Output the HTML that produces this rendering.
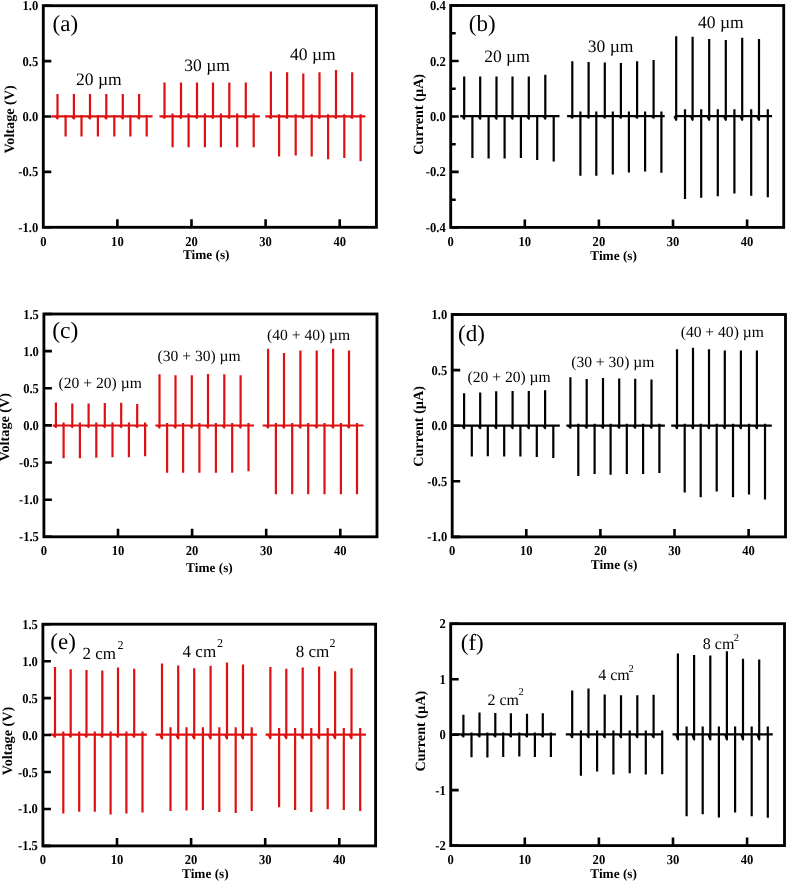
<!DOCTYPE html>
<html><head><meta charset="utf-8"><style>
html,body{margin:0;padding:0;background:#fff;}
body{width:787px;height:881px;overflow:hidden;}
svg{display:block;filter:blur(0.35px);}
text{font-family:"Liberation Serif",serif;text-rendering:geometricPrecision;}
.tl{font-weight:bold;font-size:12.6px;}
.al{font-weight:bold;font-size:13.3px;}
.yl{font-weight:bold;font-size:14.2px;}
.an{font-weight:normal;}
</style></head><body>
<svg width="787" height="881" viewBox="0 0 787 881">
<rect width="787" height="881" fill="#fff"/>
<path d="M51.7 116.4H152.5M55.7 116.4L57.5 118.4V94.0M72.1 116.4L73.9 118.4V94.0M88.2 116.4L90.0 118.4V94.0M104.5 116.4L106.3 118.4V94.0M121.0 116.4L122.8 118.4V94.0M137.3 116.4L139.1 118.4V94.0M65.6 114.9V136.4M81.5 114.9V136.4M97.9 114.9V136.4M114.3 114.9V136.4M130.4 114.9V136.4M146.7 114.9V136.4M159.5 116.4H259.8M162.7 116.4L164.5 117.9V82.6M179.2 116.4L181.0 117.9V82.6M195.2 116.4L197.0 117.9V82.6M211.2 116.4L213.0 117.9V82.6M227.5 116.4L229.3 117.9V82.6M244.0 116.4L245.8 117.9V82.6M172.6 113.4V147.2M188.6 113.4V147.2M204.9 113.4V147.2M220.9 113.4V147.2M237.2 113.4V147.2M253.7 113.4V147.2M265.3 116.4H365.4M269.1 116.4L270.9 117.9V71.4M285.3 116.4L287.1 117.9V72.2M301.5 116.4L303.3 117.9V73.5M317.7 116.4L319.5 117.9V72.2M334.2 116.4L336.0 117.9V69.9M350.4 116.4L352.2 117.9V72.2M279.1 114.2V156.4M295.7 114.2V155.6M311.7 114.2V156.4M328.1 114.2V159.3M344.3 114.2V158.0M360.6 114.2V161.2" stroke="#dd1111" stroke-width="2.2" fill="none" stroke-linejoin="round"/>
<rect x="43.3" y="5.7" width="333.1" height="221.6" fill="none" stroke="#000" stroke-width="2.85"/>
<path d="M43.3 5.7h8M43.3 61.1h8M43.3 116.5h8M43.3 171.9h8M43.3 227.3h8M117.4 227.3v-8M191.5 227.3v-8M265.6 227.3v-8M339.7 227.3v-8" stroke="#000" stroke-width="2.6" fill="none"/>
<text transform="translate(38.3,10.22) scale(1,1.08)" class="tl" text-anchor="end">1.0</text>
<text transform="translate(38.3,65.62) scale(1,1.08)" class="tl" text-anchor="end">0.5</text>
<text transform="translate(38.3,121.02) scale(1,1.08)" class="tl" text-anchor="end">0.0</text>
<text transform="translate(38.3,176.42) scale(1,1.08)" class="tl" text-anchor="end">-0.5</text>
<text transform="translate(38.3,231.82) scale(1,1.08)" class="tl" text-anchor="end">-1.0</text>
<text transform="translate(43.3,245.62) scale(1,1.08)" class="tl" text-anchor="middle">0</text>
<text transform="translate(117.4,245.62) scale(1,1.08)" class="tl" text-anchor="middle">10</text>
<text transform="translate(191.5,245.62) scale(1,1.08)" class="tl" text-anchor="middle">20</text>
<text transform="translate(265.6,245.62) scale(1,1.08)" class="tl" text-anchor="middle">30</text>
<text transform="translate(339.7,245.62) scale(1,1.08)" class="tl" text-anchor="middle">40</text>
<text x="182.9" y="259.2" class="al">Time (s)</text>
<text transform="translate(13.7,119.4) rotate(-90)" class="yl" text-anchor="middle">Voltage (V)</text>
<text x="52.6" y="31.2" class="an" font-size="23">(a)</text>
<text x="76.1" y="85.3" class="an" font-size="17.5">20 µm</text>
<text x="184.3" y="71.3" class="an" font-size="17.5">30 µm</text>
<text x="290.0" y="60.0" class="an" font-size="17.5">40 µm</text>
<path d="M460.2 116.2H559.5M462.4 116.2L464.2 118.7V76.5M478.4 116.2L480.2 118.7V76.5M494.7 116.2L496.5 118.7V76.5M510.7 116.2L512.5 118.7V76.5M527.0 116.2L528.8 118.7V76.5M543.5 116.2L545.3 118.7V74.8M472.4 115.2V158.0M488.6 115.2V158.4M504.6 115.2V158.4M520.9 115.2V158.0M537.2 115.2V159.9M553.7 115.2V161.4M567.1 116.2H664.7M570.5 116.2L572.3 117.7V61.3M586.8 116.2L588.6 117.7V62.1M603.0 116.2L604.8 117.7V62.6M619.1 116.2L620.9 117.7V63.0M635.3 116.2L637.1 117.7V61.3M651.8 116.2L653.6 117.7V60.1M580.4 111.6V175.7M596.3 111.6V175.7M612.8 111.6V174.5M628.9 111.6V172.4M645.1 111.6V171.6M661.4 111.6V172.8M674.7 116.2H772.1M674.4 116.2L676.2 119.8V36.2M690.8 116.2L692.6 119.8V36.8M707.4 116.2L709.2 119.8V39.0M724.0 116.2L725.8 119.8V40.0M740.4 116.2L742.2 119.8V37.7M757.2 116.2L759.0 119.8V39.0M685.0 109.3V198.9M701.2 109.3V197.8M717.8 109.3V196.3M734.4 109.3V193.5M751.2 109.3V195.7M767.8 109.3V197.2" stroke="#000" stroke-width="2.2" fill="none" stroke-linejoin="round"/>
<rect x="450.7" y="5.5" width="333.0" height="221.9" fill="none" stroke="#000" stroke-width="2.85"/>
<path d="M450.7 5.5h8M450.7 61.0h8M450.7 116.5h8M450.7 171.9h8M450.7 227.4h8M450.7 33.2h5M450.7 88.7h5M450.7 144.2h5M450.7 199.7h5M524.8 227.4v-8M598.9 227.4v-8M673.0 227.4v-8M747.1 227.4v-8" stroke="#000" stroke-width="2.6" fill="none"/>
<text transform="translate(445.7,10.02) scale(1,1.08)" class="tl" text-anchor="end">0.4</text>
<text transform="translate(445.7,65.50) scale(1,1.08)" class="tl" text-anchor="end">0.2</text>
<text transform="translate(445.7,120.97) scale(1,1.08)" class="tl" text-anchor="end">0.0</text>
<text transform="translate(445.7,176.45) scale(1,1.08)" class="tl" text-anchor="end">-0.2</text>
<text transform="translate(445.7,231.92) scale(1,1.08)" class="tl" text-anchor="end">-0.4</text>
<text transform="translate(450.7,245.72) scale(1,1.08)" class="tl" text-anchor="middle">0</text>
<text transform="translate(524.8,245.72) scale(1,1.08)" class="tl" text-anchor="middle">10</text>
<text transform="translate(598.9,245.72) scale(1,1.08)" class="tl" text-anchor="middle">20</text>
<text transform="translate(673.0,245.72) scale(1,1.08)" class="tl" text-anchor="middle">30</text>
<text transform="translate(747.1,245.72) scale(1,1.08)" class="tl" text-anchor="middle">40</text>
<text x="590.3" y="259.5" class="al">Time (s)</text>
<text transform="translate(422.5,114.3) rotate(-90)" class="yl" text-anchor="middle">Current (µA)</text>
<text x="468.8" y="30.6" class="an" font-size="23">(b)</text>
<text x="484.2" y="61.5" class="an" font-size="17.5">20 µm</text>
<text x="587.8" y="51.9" class="an" font-size="17.5">30 µm</text>
<text x="698.1" y="28.3" class="an" font-size="17.5">40 µm</text>
<path d="M52.7 425.5H147.7M54.1 425.5L55.9 427.0V402.4M70.5 425.5L72.3 427.0V403.5M86.8 425.5L88.6 427.0V403.5M103.0 425.5L104.8 427.0V403.1M119.4 425.5L121.2 427.0V402.8M135.4 425.5L137.2 427.0V404.0M63.6 422.5V458.3M79.9 422.5V458.3M96.3 422.5V457.7M112.5 422.5V457.3M128.9 422.5V457.3M145.1 422.5V456.2M155.4 425.5H254.0M157.7 425.5L159.5 427.5V374.2M173.7 425.5L175.5 427.5V375.2M190.0 425.5L191.8 427.5V375.2M206.2 425.5L208.0 427.5V374.0M222.5 425.5L224.3 427.5V374.2M238.8 425.5L240.6 427.5V375.2M167.1 423.0V472.8M183.1 423.0V472.8M199.4 423.0V472.8M215.9 423.0V472.8M232.2 423.0V472.8M248.5 423.0V471.3M262.6 425.5H363.6M266.3 425.5L268.1 427.5V348.7M282.2 425.5L284.0 427.5V353.1M298.6 425.5L300.4 427.5V350.5M314.9 425.5L316.7 427.5V350.5M331.3 425.5L333.1 427.5V348.7M347.2 425.5L349.0 427.5V350.5M275.9 423.0V494.3M292.2 423.0V494.3M308.2 423.0V494.3M324.5 423.0V494.3M340.9 423.0V494.3M357.0 423.0V494.3" stroke="#dd1111" stroke-width="2.2" fill="none" stroke-linejoin="round"/>
<rect x="43.9" y="314.0" width="333.1" height="222.8" fill="none" stroke="#000" stroke-width="2.85"/>
<path d="M43.9 314.0h8M43.9 351.1h8M43.9 388.3h8M43.9 425.4h8M43.9 462.5h8M43.9 499.7h8M43.9 536.8h8M118.0 536.8v-8M192.1 536.8v-8M266.2 536.8v-8M340.3 536.8v-8" stroke="#000" stroke-width="2.6" fill="none"/>
<text transform="translate(38.9,318.52) scale(1,1.08)" class="tl" text-anchor="end">1.5</text>
<text transform="translate(38.9,355.66) scale(1,1.08)" class="tl" text-anchor="end">1.0</text>
<text transform="translate(38.9,392.79) scale(1,1.08)" class="tl" text-anchor="end">0.5</text>
<text transform="translate(38.9,429.92) scale(1,1.08)" class="tl" text-anchor="end">0.0</text>
<text transform="translate(38.9,467.06) scale(1,1.08)" class="tl" text-anchor="end">-0.5</text>
<text transform="translate(38.9,504.19) scale(1,1.08)" class="tl" text-anchor="end">-1.0</text>
<text transform="translate(38.9,541.32) scale(1,1.08)" class="tl" text-anchor="end">-1.5</text>
<text transform="translate(43.9,555.12) scale(1,1.08)" class="tl" text-anchor="middle">0</text>
<text transform="translate(118.0,555.12) scale(1,1.08)" class="tl" text-anchor="middle">10</text>
<text transform="translate(192.1,555.12) scale(1,1.08)" class="tl" text-anchor="middle">20</text>
<text transform="translate(266.2,555.12) scale(1,1.08)" class="tl" text-anchor="middle">30</text>
<text transform="translate(340.3,555.12) scale(1,1.08)" class="tl" text-anchor="middle">40</text>
<text x="186.1" y="572.3" class="al">Time (s)</text>
<text transform="translate(9.4,427.2) rotate(-90)" class="yl" text-anchor="middle">Voltage (V)</text>
<text x="52.2" y="337.6" class="an" font-size="23.5">(c)</text>
<text x="58.6" y="388.0" class="an" font-size="15.6">(20 + 20) µm</text>
<text x="157.5" y="360.7" class="an" font-size="15.6">(30 + 30) µm</text>
<text x="267.0" y="340.3" class="an" font-size="15.6">(40 + 40) µm</text>
<path d="M452.8 425.7H559.8M462.3 425.7L464.1 428.2V393.3M478.4 425.7L480.2 428.2V392.6M494.4 425.7L496.2 428.2V391.2M510.8 425.7L512.6 428.2V390.9M527.0 425.7L528.8 428.2V390.9M543.3 425.7L545.1 428.2V390.2M471.8 424.7V456.6M487.8 424.7V456.2M504.2 424.7V456.6M520.4 424.7V456.6M536.8 424.7V456.9M553.3 424.7V458.0M566.4 425.7H664.9M568.6 425.7L570.4 427.7V377.2M584.9 425.7L586.7 427.7V379.1M601.2 425.7L603.0 427.7V378.0M617.4 425.7L619.2 427.7V378.6M633.4 425.7L635.2 427.7V378.8M649.7 425.7L651.5 427.7V379.5M578.3 423.7V475.9M594.6 423.7V474.1M610.6 423.7V474.7M626.8 423.7V474.1M643.1 423.7V474.1M659.4 423.7V473.1M671.2 425.7H771.8M675.2 425.7L677.0 428.2V349.3M691.2 425.7L693.0 428.2V347.7M707.2 425.7L709.0 428.2V349.3M723.0 425.7L724.8 428.2V350.6M739.1 425.7L740.9 428.2V350.6M755.1 425.7L756.9 428.2V350.6M684.7 423.7V492.5M700.7 423.7V497.3M716.7 423.7V491.5M733.0 423.7V497.3M749.0 423.7V494.4M765.0 423.7V499.5" stroke="#000" stroke-width="2.2" fill="none" stroke-linejoin="round"/>
<rect x="452.2" y="314.5" width="333.3" height="222.4" fill="none" stroke="#000" stroke-width="2.85"/>
<path d="M452.2 314.5h8M452.2 370.1h8M452.2 425.7h8M452.2 481.3h8M452.2 536.9h8M526.3 536.9v-8M600.4 536.9v-8M674.5 536.9v-8M748.6 536.9v-8" stroke="#000" stroke-width="2.6" fill="none"/>
<text transform="translate(447.2,319.02) scale(1,1.08)" class="tl" text-anchor="end">1.0</text>
<text transform="translate(447.2,374.62) scale(1,1.08)" class="tl" text-anchor="end">0.5</text>
<text transform="translate(447.2,430.22) scale(1,1.08)" class="tl" text-anchor="end">0.0</text>
<text transform="translate(447.2,485.82) scale(1,1.08)" class="tl" text-anchor="end">-0.5</text>
<text transform="translate(447.2,541.42) scale(1,1.08)" class="tl" text-anchor="end">-1.0</text>
<text transform="translate(452.2,555.22) scale(1,1.08)" class="tl" text-anchor="middle">0</text>
<text transform="translate(526.3,555.22) scale(1,1.08)" class="tl" text-anchor="middle">10</text>
<text transform="translate(600.4,555.22) scale(1,1.08)" class="tl" text-anchor="middle">20</text>
<text transform="translate(674.5,555.22) scale(1,1.08)" class="tl" text-anchor="middle">30</text>
<text transform="translate(748.6,555.22) scale(1,1.08)" class="tl" text-anchor="middle">40</text>
<text x="590.8" y="569.3" class="al">Time (s)</text>
<text transform="translate(422.8,426.4) rotate(-90)" class="yl" text-anchor="middle">Current (µA)</text>
<text x="458.0" y="340.5" class="an" font-size="23">(d)</text>
<text x="467.5" y="381.7" class="an" font-size="15.6">(20 + 20) µm</text>
<text x="571.2" y="367.0" class="an" font-size="15.6">(30 + 30) µm</text>
<text x="680.7" y="337.4" class="an" font-size="15.6">(40 + 40) µm</text>
<path d="M49.2 734.7H146.9M53.2 734.7L55.0 736.7V667.0M68.9 734.7L70.7 736.7V669.3M84.7 734.7L86.5 736.7V669.9M100.5 734.7L102.3 736.7V670.6M116.2 734.7L118.0 736.7V667.4M132.4 734.7L134.2 736.7V668.7M63.3 731.4V813.6M79.2 731.4V811.7M94.8 731.4V811.7M110.6 731.4V814.4M126.4 731.4V813.6M142.5 731.4V812.5M155.6 734.7H256.9M160.2 734.7L162.0 738.4V663.5M176.4 734.7L178.2 738.4V665.4M192.4 734.7L194.2 738.4V668.3M208.8 734.7L210.6 738.4V665.8M225.2 734.7L227.0 738.4V662.5M241.2 734.7L243.0 738.4V664.5M170.5 727.2V811.1M186.5 727.2V810.5M202.9 727.2V810.1M219.3 727.2V812.1M235.7 727.2V813.0M251.7 727.2V811.1M265.6 734.7H365.9M268.6 734.7L270.4 738.2V667.0M284.5 734.7L286.3 738.2V668.7M300.9 734.7L302.7 738.2V667.4M317.3 734.7L319.1 738.2V666.4M333.3 734.7L335.1 738.2V671.2M349.7 734.7L351.5 738.2V668.3M279.1 728.1V807.2M295.1 728.1V810.1M311.3 728.1V812.1M327.7 728.1V809.2M343.8 728.1V810.1M360.2 728.1V811.1" stroke="#dd1111" stroke-width="2.2" fill="none" stroke-linejoin="round"/>
<rect x="42.9" y="624.2" width="332.7" height="221.7" fill="none" stroke="#000" stroke-width="2.85"/>
<path d="M42.9 624.2h8M42.9 661.2h8M42.9 698.1h8M42.9 735.0h8M42.9 772.0h8M42.9 809.0h8M42.9 845.9h8M117.0 845.9v-8M191.1 845.9v-8M265.2 845.9v-8M339.3 845.9v-8" stroke="#000" stroke-width="2.6" fill="none"/>
<text transform="translate(37.9,628.72) scale(1,1.08)" class="tl" text-anchor="end">1.5</text>
<text transform="translate(37.9,665.67) scale(1,1.08)" class="tl" text-anchor="end">1.0</text>
<text transform="translate(37.9,702.62) scale(1,1.08)" class="tl" text-anchor="end">0.5</text>
<text transform="translate(37.9,739.57) scale(1,1.08)" class="tl" text-anchor="end">0.0</text>
<text transform="translate(37.9,776.52) scale(1,1.08)" class="tl" text-anchor="end">-0.5</text>
<text transform="translate(37.9,813.47) scale(1,1.08)" class="tl" text-anchor="end">-1.0</text>
<text transform="translate(37.9,850.42) scale(1,1.08)" class="tl" text-anchor="end">-1.5</text>
<text transform="translate(42.9,864.22) scale(1,1.08)" class="tl" text-anchor="middle">0</text>
<text transform="translate(117.0,864.22) scale(1,1.08)" class="tl" text-anchor="middle">10</text>
<text transform="translate(191.1,864.22) scale(1,1.08)" class="tl" text-anchor="middle">20</text>
<text transform="translate(265.2,864.22) scale(1,1.08)" class="tl" text-anchor="middle">30</text>
<text transform="translate(339.3,864.22) scale(1,1.08)" class="tl" text-anchor="middle">40</text>
<text x="182.0" y="878.0" class="al">Time (s)</text>
<text transform="translate(12.4,741.0) rotate(-90)" class="yl" text-anchor="middle">Voltage (V)</text>
<text x="50.3" y="648.5" class="an" font-size="23">(e)</text>
<text x="82.4" y="658.9" class="an" font-size="17">2 cm</text>
<text x="117.4" y="648.7" class="an" font-size="12">2</text>
<text x="182.6" y="657.0" class="an" font-size="17">4 cm</text>
<text x="216.9" y="647.2" class="an" font-size="12">2</text>
<text x="295.8" y="657.0" class="an" font-size="17">8 cm</text>
<text x="329.6" y="647.2" class="an" font-size="12">2</text>
<path d="M452.5 734.4H555.9M461.6 734.4L463.4 736.4V714.7M477.7 734.4L479.5 736.4V712.6M493.5 734.4L495.3 736.4V712.9M509.1 734.4L510.9 736.4V713.3M525.2 734.4L527.0 736.4V713.7M541.0 734.4L542.8 736.4V713.3M471.5 732.4V757.3M487.4 732.4V757.6M503.2 732.4V757.0M519.3 732.4V756.6M534.9 732.4V757.0M550.9 732.4V756.9M565.8 734.4H662.2M570.4 734.4L572.2 737.2V690.4M586.7 734.4L588.5 737.2V688.4M602.9 734.4L604.7 737.2V694.5M619.2 734.4L621.0 737.2V695.2M635.5 734.4L637.3 737.2V695.2M651.8 734.4L653.6 737.2V694.8M580.9 730.4V775.8M597.1 730.4V771.5M613.4 730.4V774.5M629.7 730.4V773.3M645.8 730.4V774.5M662.2 730.4V774.2M672.5 734.4H772.8M676.1 734.4L677.9 739.4V653.4M692.3 734.4L694.1 739.4V655.1M708.5 734.4L710.3 739.4V655.5M725.1 734.4L726.9 739.4V651.2M741.2 734.4L743.0 739.4V658.8M757.4 734.4L759.2 739.4V659.4M686.6 726.4V816.3M702.7 726.4V814.2M718.9 726.4V817.4M735.1 726.4V812.4M751.7 726.4V816.3M767.8 726.4V817.8" stroke="#000" stroke-width="2.2" fill="none" stroke-linejoin="round"/>
<rect x="450.7" y="623.7" width="333.8" height="221.9" fill="none" stroke="#000" stroke-width="2.85"/>
<path d="M450.7 623.7h8M450.7 679.2h8M450.7 734.7h8M450.7 790.1h8M450.7 845.6h8M524.8 845.6v-8M598.9 845.6v-8M673.0 845.6v-8M747.1 845.6v-8" stroke="#000" stroke-width="2.6" fill="none"/>
<text transform="translate(445.7,628.22) scale(1,1.08)" class="tl" text-anchor="end">2</text>
<text transform="translate(445.7,683.70) scale(1,1.08)" class="tl" text-anchor="end">1</text>
<text transform="translate(445.7,739.17) scale(1,1.08)" class="tl" text-anchor="end">0</text>
<text transform="translate(445.7,794.65) scale(1,1.08)" class="tl" text-anchor="end">-1</text>
<text transform="translate(445.7,850.12) scale(1,1.08)" class="tl" text-anchor="end">-2</text>
<text transform="translate(450.7,863.92) scale(1,1.08)" class="tl" text-anchor="middle">0</text>
<text transform="translate(524.8,863.92) scale(1,1.08)" class="tl" text-anchor="middle">10</text>
<text transform="translate(598.9,863.92) scale(1,1.08)" class="tl" text-anchor="middle">20</text>
<text transform="translate(673.0,863.92) scale(1,1.08)" class="tl" text-anchor="middle">30</text>
<text transform="translate(747.1,863.92) scale(1,1.08)" class="tl" text-anchor="middle">40</text>
<text x="590.3" y="878.0" class="al">Time (s)</text>
<text transform="translate(425.3,731.2) rotate(-90)" class="yl" text-anchor="middle">Current (µA)</text>
<text x="460.8" y="650.0" class="an" font-size="23">(f)</text>
<text x="487.5" y="704.9" class="an" font-size="16">2 cm</text>
<text x="518.4" y="695.4" class="an" font-size="10.5">2</text>
<text x="598.2" y="679.8" class="an" font-size="16">4 cm</text>
<text x="628.4" y="671.7" class="an" font-size="10.5">2</text>
<text x="702.8" y="648.7" class="an" font-size="16">8 cm</text>
<text x="733.7" y="640.6" class="an" font-size="10.5">2</text>
</svg>
</body></html>
